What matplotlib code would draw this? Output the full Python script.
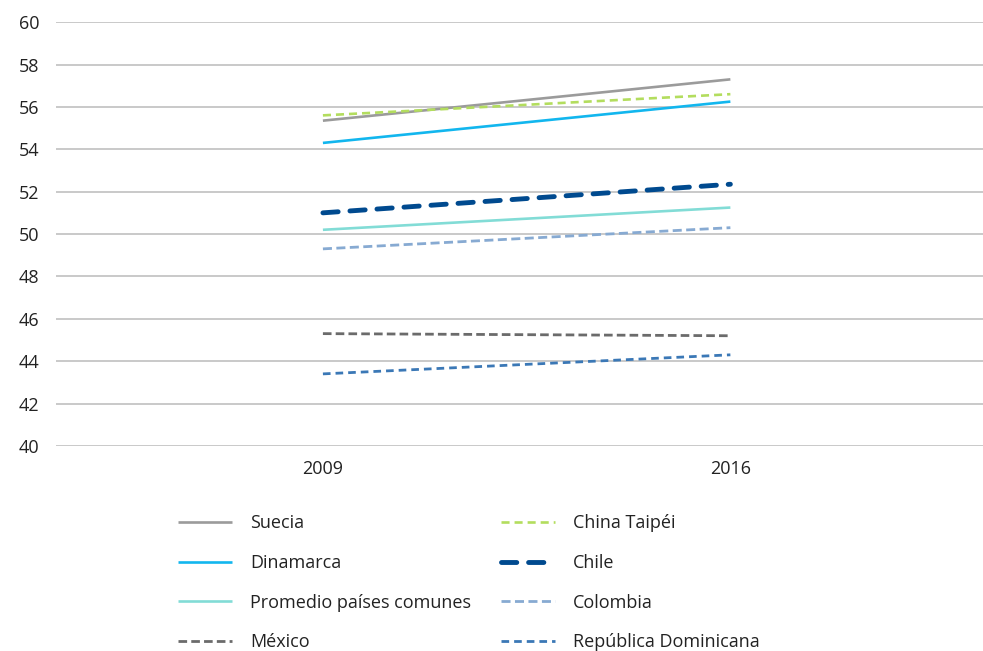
import matplotlib.pyplot as plt
import numpy as np

plt.rcParams['font.family'] = ['Open Sans', 'DejaVu Sans']
plt.rcParams['lines.scale_dashes'] = False

years = ['2009', '2016']
suecia = [55.35, 57.3]
china_taipei = [55.6, 56.6]
dinamarca = [54.3, 56.25]
chile = [51.0, 52.35]
promedio = [50.2, 51.25]
colombia = [49.3, 50.3]
mexico = [45.3, 45.2]
rep_dominicana = [43.4, 44.3]

y_ticks = list(range(40, 61, 2))

fig = plt.figure(figsize=(9.83, 6.51), dpi=100)
ax = fig.add_axes([0.057, 0.315, 0.943, 0.651])

x = np.arange(len(years))
handles = {}
handles['Suecia'], = ax.plot(x, suecia, color='#9b9b9b', lw=1.9, solid_capstyle='butt')
handles['China Taipéi'], = ax.plot(x, china_taipei, color='#b3dd5e', lw=1.9, dashes=(5.8, 3.6))
handles['Dinamarca'], = ax.plot(x, dinamarca, color='#12b6ee', lw=1.9, solid_capstyle='butt')
handles['Chile'], = ax.plot(x, chile, color='#004a8f', lw=3.5, dashes=(11, 8.5),
                            dash_capstyle='round')
handles['Promedio países comunes'], = ax.plot(x, promedio, color='#82dcd6', lw=1.9,
                                              solid_capstyle='butt')
handles['Colombia'], = ax.plot(x, colombia, color='#87aad2', lw=2.0, dashes=(6.5, 3.2))
handles['México'], = ax.plot(x, mexico, color='#6b6b6b', lw=2.0, dashes=(6.2, 3.0))
handles['República Dominicana'], = ax.plot(x, rep_dominicana, color='#3b78b6', lw=2.0,
                                           dashes=(5.5, 3.6))

ax.set_xlim(-0.655, 1.62)
ax.set_ylim(40, 60)
ax.set_yticks(y_ticks)
ax.set_xticks(x)
ax.set_xticklabels(years)
ax.grid(axis='y', color='#c0c0c0', lw=1.2)
ax.set_axisbelow(True)
for s in ax.spines.values():
    s.set_visible(False)
ax.tick_params(length=0, labelsize=13, colors='#222222')
ax.tick_params(axis='y', pad=12)
ax.tick_params(axis='x', pad=10)

order = ['Suecia', 'Dinamarca', 'Promedio países comunes', 'México',
         'China Taipéi', 'Chile', 'Colombia', 'República Dominicana']
leg = fig.legend([handles[k] for k in order], order, ncol=2, loc='upper left',
                 bbox_to_anchor=(0.181, 0.210), frameon=False, fontsize=13,
                 handlelength=3.0, handletextpad=1.0, labelspacing=1.2,
                 columnspacing=1.65, borderpad=0, borderaxespad=0)
for t in leg.get_texts():
    t.set_color('#222222')

plt.savefig('out.png', dpi=100)
